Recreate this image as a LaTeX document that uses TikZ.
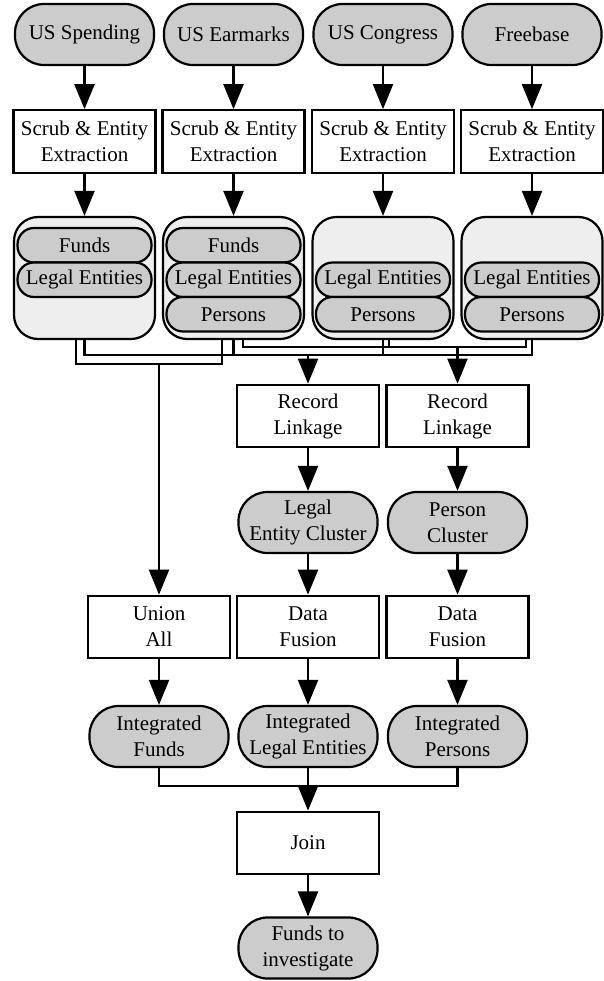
\documentclass[tikz,border=0pt]{standalone}
\usepackage{fontspec}
\setmainfont{Liberation Serif}
\usetikzlibrary{arrows.meta}
\definecolor{pillfill}{HTML}{CCCCCC}
\definecolor{groupfill}{HTML}{EEEEEE}
\begin{document}
\begin{tikzpicture}[x=1pt,y=-1pt,
  every node/.style={font={\fontsize{21}{26}\selectfont}, align=center, inner sep=0pt},
  proc/.style={draw, line width=2.2pt, fill=white, minimum width=142pt, minimum height=62.5pt},
  data/.style={draw, line width=2.2pt, fill=pillfill, rounded corners=29pt, minimum width=139pt, minimum height=61pt},
  group/.style={draw, line width=2.2pt, fill=groupfill, rounded corners=24pt, minimum width=141pt, minimum height=122pt},
  slot/.style={draw, line width=2.2pt, fill=pillfill, rounded corners=16.5pt, minimum width=134pt, minimum height=34.5pt},
  link/.style={line width=2.2pt},
  arr/.style={line width=2.2pt, -{Triangle[length=25pt,width=20pt]}},
]
\useasboundingbox (0,0) rectangle (603,981);

% sources
\node[data] (s1) at (84.5,34.5) {US Spending};
\node[data] (s2) at (233.5,34.5) {US Earmarks};
\node[data] (s3) at (383,34.5) {US Congress};
\node[data] (s4) at (532,34.5) {Freebase};

% scrubbing
\node[proc] (x1) at (84.5,141.5) {Scrub \& Entity\\Extraction};
\node[proc] (x2) at (233.5,141.5) {Scrub \& Entity\\Extraction};
\node[proc] (x3) at (383,141.5) {Scrub \& Entity\\Extraction};
\node[proc] (x4) at (532,141.5) {Scrub \& Entity\\Extraction};

% extracted entity groups
\node[group] (c1) at (84.5,278) {};
\node[group] (c2) at (233.5,278) {};
\node[group] (c3) at (383,278) {};
\node[group] (c4) at (532,278) {};

\node[slot] (c1f) at (84.5,245.25) {Funds};
\node[slot] (c1l) at (84.5,279.75) {Legal Entities};
\node[slot] (c2f) at (233.5,245.25) {Funds};
\node[slot] (c2l) at (233.5,279.75) {Legal Entities};
\node[slot] (c2p) at (233.5,314.25) {Persons};
\node[slot] (c3l) at (383,279.75) {Legal Entities};
\node[slot] (c3p) at (383,314.25) {Persons};
\node[slot] (c4l) at (532,279.75) {Legal Entities};
\node[slot] (c4p) at (532,314.25) {Persons};

% processing
\node[proc] (rl1) at (308,416) {Record\\Linkage};
\node[proc] (rl2) at (457.5,416) {Record\\Linkage};
\node[data] (lec) at (308,522.5) {Legal\\Entity Cluster};
\node[data] (pc) at (457.5,522.5) {Person\\Cluster};
\node[proc] (ua) at (159,627) {Union\\All};
\node[proc] (df1) at (308,627) {Data\\Fusion};
\node[proc] (df2) at (457.5,627) {Data\\Fusion};
\node[data] (ifd) at (159,736.5) {Integrated\\Funds};
\node[data] (ile) at (308,736.5) {Integrated\\Legal Entities};
\node[data] (ips) at (457.5,736.5) {Integrated\\Persons};
\node[proc] (join) at (308,843) {Join};
\node[data] (out) at (308,948) {Funds to\\investigate};

% bus junctions
\coordinate (fb) at (159,364);
\coordinate (lb) at (308,355);
\coordinate (pb) at (457.5,347);
\coordinate (jb) at (308,786);

% sources to scrubbing to groups
\foreach \i in {1,2,3,4} {
  \draw[arr] (s\i) -- (x\i);
  \draw[arr] (x\i) -- (c\i);
}

% funds bus
\draw[link] ([xshift=-8.5pt]c1.south) |- (fb);
\draw[link] ([xshift=-11.5pt]c2.south) |- (fb);
\draw[arr] (fb) -- (ua);

% legal entities bus
\draw[link] (c1.south) |- (lb);
\draw[link] (c2.south) |- (lb);
\draw[link] (c3.south) |- (lb);
\draw[link] (c4.south) |- (lb);
\draw[arr] (lb) -- (rl1);

% persons bus
\draw[link] ([xshift=9.5pt]c2.south) |- (pb);
\draw[link] ([xshift=6pt]c3.south) |- (pb);
\draw[link] ([xshift=-6pt]c4.south) |- (pb);
\draw[arr] (pb) -- (rl2);

% downstream chain
\draw[arr] (rl1) -- (lec);
\draw[arr] (rl2) -- (pc);
\draw[arr] (lec) -- (df1);
\draw[arr] (pc) -- (df2);
\draw[arr] (ua) -- (ifd);
\draw[arr] (df1) -- (ile);
\draw[arr] (df2) -- (ips);

% join bus
\draw[link] (ifd.south) |- (jb);
\draw[link] (ips.south) |- (jb);
\draw[arr] (ile) -- (join);
\draw[arr] (join) -- (out);
\end{tikzpicture}
\end{document}
